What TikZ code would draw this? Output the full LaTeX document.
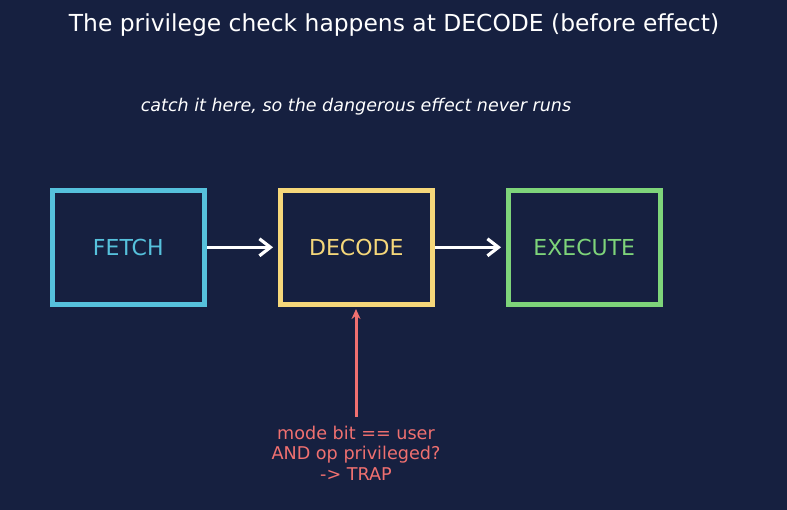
\documentclass[tikz,border=0pt]{standalone}
\usepackage{fontspec}
\setmainfont{DejaVu Sans}
\usetikzlibrary{arrows.meta}
\definecolor{bg}{HTML}{162040}
\definecolor{cfetch}{HTML}{56C1DC}
\definecolor{cdecode}{HTML}{F5D77A}
\definecolor{cexec}{HTML}{7ED47A}
\definecolor{cred}{HTML}{F07070}
\begin{document}
\begin{tikzpicture}[x=1pt,y=-1pt,
  stagebox/.style={draw, line width=5pt, minimum width=151.5pt, minimum height=113.5pt, inner sep=0pt, font=\fontsize{22}{26}\selectfont},
  flow/.style={draw=white, line width=3.2pt, -{Straight Barb[length=11pt,width=17pt,line width=3.2pt]}},
  checkarrow/.style={draw=cred, line width=3pt, -{Stealth[length=10pt,width=9pt]}}]
\fill[bg] (0,0) rectangle (787,510);
\useasboundingbox (0,0) rectangle (787,510);
\node[text=white, font=\fontsize{23.4}{28}\selectfont] (title) at (394,25) {The privilege check happens at DECODE (before effect)};
\node[text=white, font=\itshape\fontsize{17.5}{21}\selectfont] (sub) at (356,107) {catch it here, so the dangerous effect never runs};
\node[stagebox, draw=cfetch, text=cfetch] (fetch) at (128.3,247.3) {FETCH};
\node[stagebox, draw=cdecode, text=cdecode] (decode) at (356.3,247.3) {DECODE};
\node[stagebox, draw=cexec, text=cexec] (exec) at (584.3,247.3) {EXECUTE};
\draw[flow] (fetch.east) -- ([xshift=-5pt]decode.west);
\draw[flow] (decode.east) -- ([xshift=-5pt]exec.west);
\node[text=cred, align=center, font=\fontsize{17.6}{20.5}\selectfont] (check) at (356,453) {mode bit == user\\AND op privileged?\\-> TRAP};
\coordinate (cstart) at (356,417);
\draw[checkarrow] (cstart) -- ([yshift=-2.5pt]decode.south -| cstart);
\end{tikzpicture}
\end{document}
